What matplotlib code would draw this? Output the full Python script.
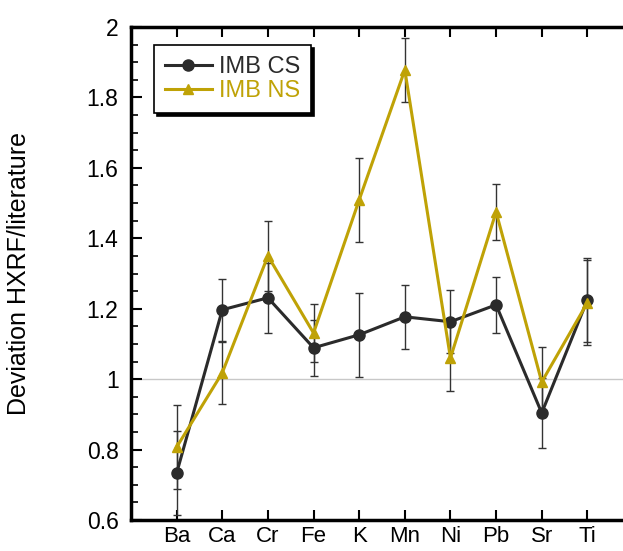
import matplotlib

matplotlib.use("Agg")
import matplotlib.pyplot as plt
from matplotlib.ticker import MultipleLocator, FuncFormatter

plt.rcParams["font.family"] = ["Liberation Sans", "DejaVu Sans"]

elements = ["Ba", "Ca", "Cr", "Fe", "K", "Mn", "Ni", "Pb", "Sr", "Ti"]
cs_values = [0.733, 1.197, 1.231, 1.089, 1.126, 1.177, 1.163, 1.211, 0.904, 1.225]
cs_errors = [0.12, 0.088, 0.10, 0.08, 0.12, 0.09, 0.09, 0.08, 0.10, 0.12]
ns_values = [0.807, 1.018, 1.350, 1.131, 1.509, 1.878, 1.060, 1.475, 0.992, 1.217]
ns_errors = [0.12, 0.088, 0.10, 0.082, 0.12, 0.09, 0.093, 0.08, 0.10, 0.12]

CS_COLOR = "#2b2b2b"
NS_COLOR = "#bfa206"

fig = plt.figure(figsize=(6.23, 5.51), dpi=100)
ax = fig.add_axes([131 / 623, 1 - 520 / 551, 502 / 623, 493 / 551])

x = list(range(1, len(elements) + 1))

ax.axhline(1.0, color="#c8c8c8", lw=1, zorder=1)

ax.errorbar(x, ns_values, yerr=ns_errors, fmt="none", ecolor="#333333",
            elinewidth=1, capsize=3, capthick=1, zorder=2)
ax.errorbar(x, cs_values, yerr=cs_errors, fmt="none", ecolor="#333333",
            elinewidth=1, capsize=3, capthick=1, zorder=2)

ax.plot(x, cs_values, color=CS_COLOR, lw=2.2, marker="o", ms=8,
        label="IMB CS", zorder=3)
ax.plot(x, ns_values, color=NS_COLOR, lw=2.2, marker="^", ms=7,
        label="IMB NS", zorder=4)

ax.set_xlim(0, 11)
ax.set_ylim(0.6, 2.0)
ax.set_xticks(x)
ax.set_xticklabels(elements)
ax.yaxis.set_major_locator(MultipleLocator(0.2))
ax.yaxis.set_minor_locator(MultipleLocator(0.05))
ax.yaxis.set_major_formatter(FuncFormatter(lambda v, p: f"{v:g}"))

ax.tick_params(axis="both", direction="in", labelsize=16.5, width=1.5)
ax.tick_params(axis="x", top=True, length=7, pad=4, labelsize=16)
ax.tick_params(axis="y", which="major", length=8, pad=9)
ax.tick_params(axis="y", which="minor", direction="in", length=5, width=1.2)

for side in ["left", "bottom", "top"]:
    ax.spines[side].set_linewidth(2.5)
ax.spines["right"].set_visible(False)

ax.set_ylabel("Deviation HXRF/literature", fontsize=18)
ax.yaxis.set_label_coords(-0.199, 0.5)

leg = ax.legend(loc="upper left", bbox_to_anchor=(0.046, 0.963), fontsize=17,
                frameon=True, fancybox=False, shadow={"color": "black", "alpha": 1},
                edgecolor="black", handlelength=2.0, borderpad=0.45,
                labelspacing=0.1, handletextpad=0.3, borderaxespad=0)
leg.get_frame().set_linewidth(1.2)
leg.get_texts()[0].set_color(CS_COLOR)
leg.get_texts()[1].set_color(NS_COLOR)

fig.savefig("out.png", dpi=100)
